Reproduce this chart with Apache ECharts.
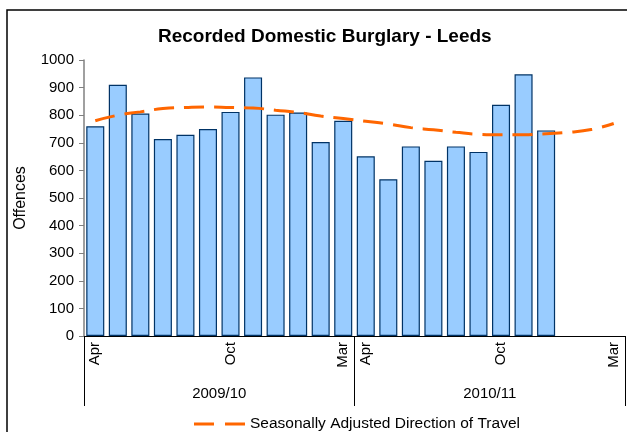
<!DOCTYPE html>
<html>
<head>
<meta charset="utf-8">
<script src="https://cdn.jsdelivr.net/npm/echarts@6/dist/echarts.min.js"></script>
<style>
html, body { margin: 0; padding: 0; background: #fff; }
#main { width: 627px; height: 432px; }
</style>
</head>
<body>
<div id="main"></div>
<script>
// months Apr 2009 .. Mar 2011
var months = ['Apr-09','May-09','Jun-09','Jul-09','Aug-09','Sep-09','Oct-09','Nov-09','Dec-09','Jan-10','Feb-10','Mar-10',
              'Apr-10','May-10','Jun-10','Jul-10','Aug-10','Sep-10','Oct-10','Nov-10','Dec-10','Jan-11','Feb-11','Mar-11'];
var shownLabels = [0, 6, 11, 12, 18, 23];
var years = ['2009/10', '2010/11'];
var offences = [760, 910, 806, 714, 729, 750, 812, 937, 802, 810, 703, 780,
                651, 568, 687, 635, 687, 667, 838, 948, 745, null, null, null];
var trend = [780, 800, 812, 824, 828, 830, 828, 826, 818, 810, 797, 788,
             778, 768, 755, 747, 738, 731, 729, 729, 733, 738, 748, 770];
var yTicks = { min: 0, max: 1000, step: 100 };

var font = 'Liberation Sans, Arial, sans-serif';

var option = {
    animation: false,
    backgroundColor: '#fff',
    title: {
        text: 'Recorded Domestic Burglary - Leeds',
        left: 153,
        top: 22,
        textStyle: { fontFamily: font, fontSize: 19, fontWeight: 'bold', color: '#000' }
    },
    legend: {
        top: 411,
        left: 189,
        icon: 'path://M0,0H20V3H0Z M31,0H51V3H31Z',
        itemWidth: 51,
        itemHeight: 3,
        itemGap: 6,
        data: ['Seasonally Adjusted Direction of Travel'],
        textStyle: { fontFamily: font, fontSize: 15.5, color: '#000' }
    },
    grid: { left: 84, right: 2, top: 60, bottom: 96 },
    graphic: [{
        type: 'rect',
        shape: { x: 7, y: 10, width: 660, height: 460 },
        style: { fill: 'none', stroke: '#000', lineWidth: 1.5 },
        silent: true
    }],
    xAxis: [
        {
            type: 'category',
            data: months,
            position: 'bottom',
            axisLine: { lineStyle: { color: '#000', width: 1 } },
            axisTick: { show: false },
            axisLabel: {
                interval: function (i) { return shownLabels.indexOf(i) >= 0; },
                rotate: 90,
                margin: 6,
                formatter: function (v) { return v.slice(0, 3); },
                fontFamily: font, fontSize: 15, color: '#000'
            }
        },
        {
            type: 'category',
            data: years,
            position: 'bottom',
            axisLine: { show: false },
            axisTick: { show: true, length: 70, lineStyle: { color: '#000', width: 1 } },
            axisLabel: { margin: 50, fontFamily: font, fontSize: 15, color: '#000' }
        }
    ],
    yAxis: {
        type: 'value',
        min: yTicks.min,
        max: yTicks.max,
        interval: yTicks.step,
        name: 'Offences',
        nameLocation: 'middle',
        nameGap: 55,
        nameTextStyle: { fontFamily: font, fontSize: 16, color: '#000' },
        axisLine: { show: true, lineStyle: { color: '#808080', width: 1.5 } },
        axisTick: { show: true, length: 5, lineStyle: { color: '#808080' } },
        axisLabel: {
            margin: 10, fontFamily: font, fontSize: 15, color: '#000',
            formatter: function (v) { return String(v); }
        },
        splitLine: { show: false }
    },
    series: [
        {
            name: 'Offences',
            type: 'bar',
            xAxisIndex: 0,
            data: offences,
            barCategoryGap: '20%',
            itemStyle: { color: '#99CCFF', borderColor: '#003366', borderWidth: 1.2 }
        },
        {
            name: 'Seasonally Adjusted Direction of Travel',
            type: 'line',
            xAxisIndex: 0,
            data: trend,
            smooth: true,
            showSymbol: false,
            symbol: 'none',
            lineStyle: { color: '#FF6600', width: 3, type: [20, 10] },
            itemStyle: { color: '#FF6600' }
        }
    ]
};

var chart = echarts.init(document.getElementById('main'));
chart.setOption(option);
</script>
</body>
</html>
